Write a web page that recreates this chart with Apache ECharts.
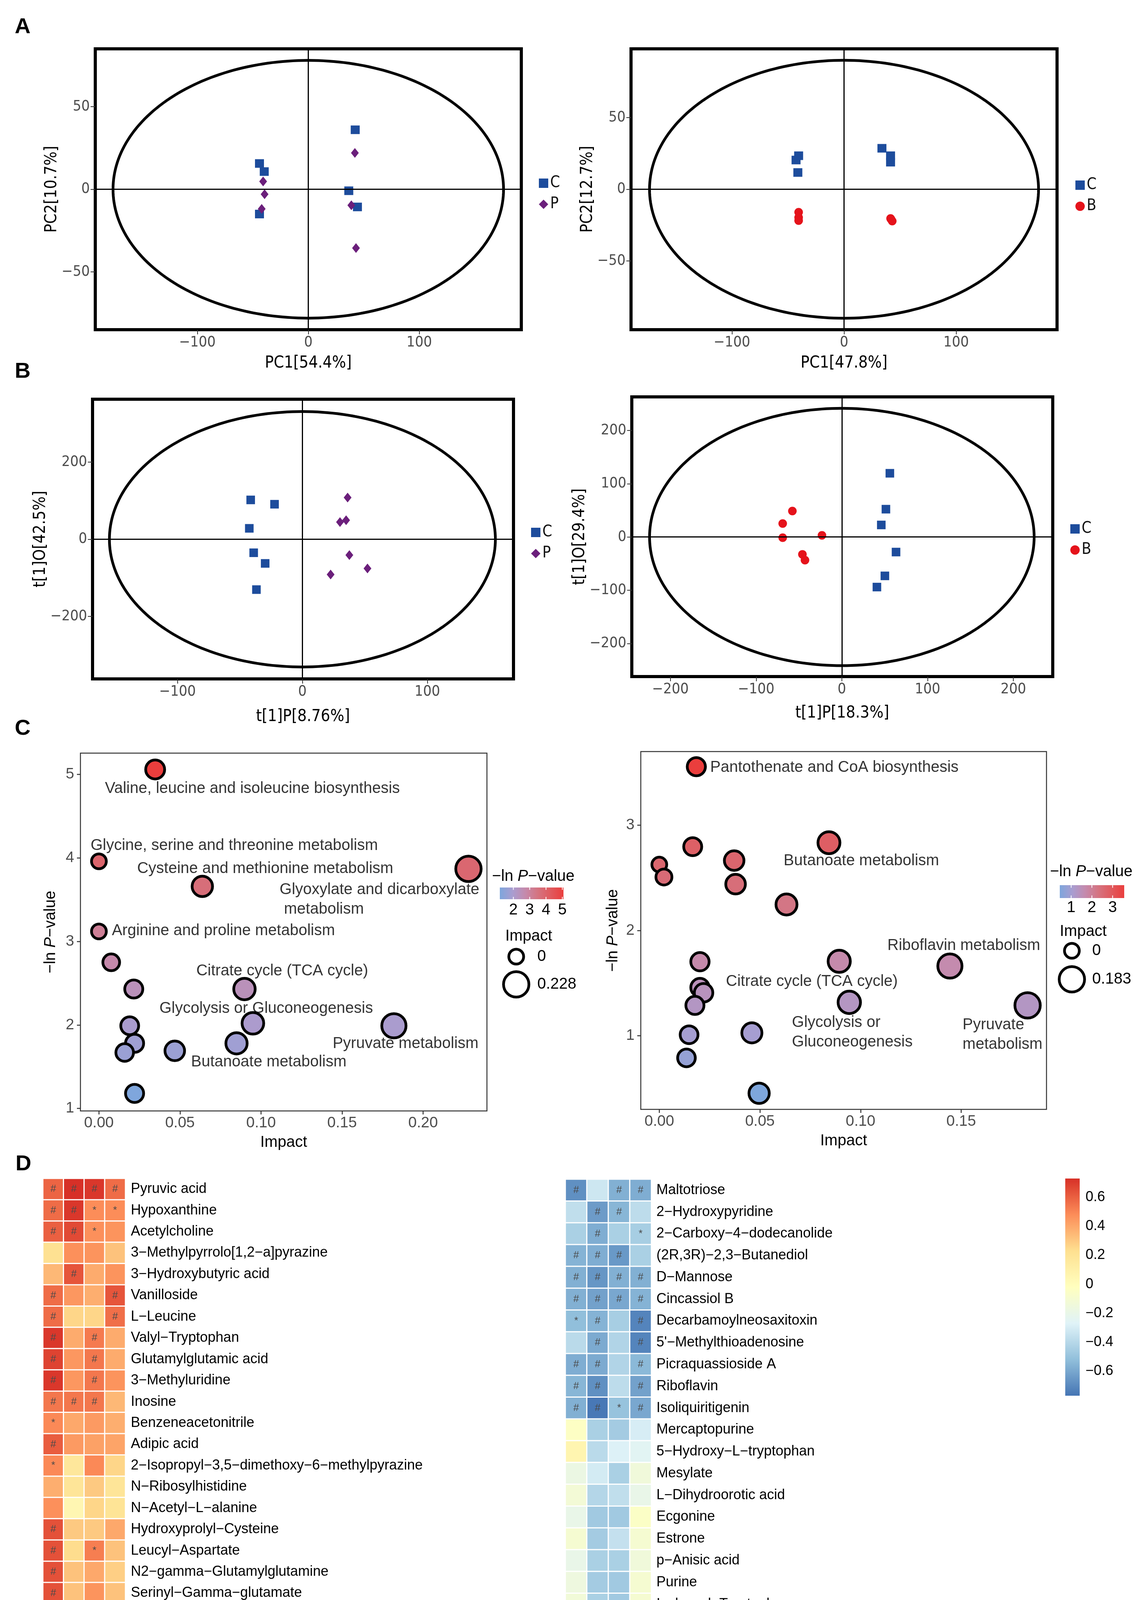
<!DOCTYPE html>
<html><head><meta charset="utf-8">
<script src="https://cdn.jsdelivr.net/npm/echarts@6/dist/echarts.min.js"></script>
<style>html,body{margin:0;padding:0;background:#fff}#c{width:2922px;height:5471px}</style>
</head><body><div id="c"></div>
<script>
// ---------------- DATA ----------------
// Panel A: PCA scores
const pcaA1_C = [[-44,15.6],[-39.7,10.7],[-44,-15],[42.3,36],[36.5,-0.9],[44.3,-10.7]];
const pcaA1_P = [[-40.7,4.7],[-39.4,-3],[-42,-11.9],[42,22],[38.8,-9.7],[43,-35.6]];
const pcaA2_C = [[-40.5,23.4],[-42.8,20.4],[-41.2,11.7],[33.8,28.6],[41.5,23.4],[41.5,18.9]];
const pcaA2_B = [[-40.5,-16],[-40.5,-19.7],[-40.5,-21.9],[41.5,-20.4],[43,-22.2],[42,-21]];
// Panel B: OPLS-DA scores
const oplsB1_C = [[-41.4,102],[-22.3,90.8],[-42.5,28.3],[-39,-35],[-29.8,-62.6],[-36.8,-130.5]];
const oplsB1_P = [[36.2,108],[35,49.3],[30.1,44.5],[37.6,-41],[52.1,-75.8],[22.6,-91.4]];
const oplsB2_C = [[56,119.6],[51.4,52.2],[46,22.6],[63.2,-28.3],[50.2,-73],[40.9,-94]];
const oplsB2_B = [[-57.7,48.7],[-69,25.2],[-69,-1.3],[-23.2,3],[-46,-32.6],[-43,-43.5]];
// Hotelling ellipse semi-axes [x, y]
const ellA1 = [176, 78], ellA2 = [173.5, 90], ellB1 = [154.5, 331], ellB2 = [224.3, 241.5];
// Axis ranges and ticks
const rngA1 = {x:[-192,192], y:[-85,85]}, rngA2 = {x:[-190,190], y:[-98,98]};
const rngB1 = {x:[-168,169], y:[-362,363]}, rngB2 = {x:[-245,246], y:[-262,263]};
const ticksA_x = [-100,0,100], ticksA_y = [-50,0,50];
const ticksB1_x = [-100,0,100], ticksB1_y = [-200,0,200];
const ticksB2_x = [-200,-100,0,100,200], ticksB2_y = [-200,-100,0,100,200];

// Panel C: pathway bubbles
const pathL_impact = [0.0347,0,0.0638,0.228,0,0.0076,0.0215,0.0898,0.095,0.019,0.022,0.0159,0.0468,0.0849,0.182,0.022];
const pathL_lnP    = [5.06,3.96,3.66,3.87,3.12,2.75,2.43,2.43,2.02,1.99,1.78,1.67,1.69,1.78,1.99,1.18];
const pathL_labels = ['Valine, leucine and isoleucine biosynthesis','Glycine, serine and threonine metabolism','Cysteine and methionine metabolism','Glyoxylate and dicarboxylate\n metabolism','Arginine and proline metabolism','Citrate cycle (TCA cycle)','Glycolysis or Gluconeogenesis','Pyruvate metabolism','Butanoate metabolism'];
const pathL_labelX = [0.0947,0.0835,0.1026,0.1115,0.0768,0.1131,0.1032,0.1892,0.1048];
const pathL_labelY = [4.83,4.148,3.873,3.50,3.127,2.644,2.198,1.773,1.557];
const pathL_labelAlign = ['center','center','center','left','center','center','center','center','center'];
const pathR_impact = [0.0184,0.0166,0,0.0023,0.0372,0.0379,0.0843,0.0632,0.0202,0.0894,0.1444,0.0202,0.022,0.0177,0.0944,0.183,0.0148,0.046,0.0135,0.0496];
const pathR_lnP    = [3.556,2.796,2.626,2.508,2.664,2.44,2.834,2.247,1.703,1.707,1.662,1.458,1.408,1.288,1.317,1.288,1.009,1.027,0.789,0.453];
const pathR_labels = ['Pantothenate and CoA biosynthesis','Butanoate metabolism','Riboflavin metabolism','Citrate cycle (TCA cycle)','Glycolysis or\nGluconeogenesis','Pyruvate\nmetabolism'];
const pathR_labelX = [0.087,0.1004,0.1513,0.0758,0.0659,0.1507];
const pathR_labelY = [3.549,2.66,1.855,1.515,1.033,1.009];
const pathR_labelAlign = ['center','center','center','center','left','left'];
const pathL_xTicks = [0,0.05,0.10,0.15,0.20], pathL_yTicks = [1,2,3,4,5];
const pathR_xTicks = [0,0.05,0.10,0.15], pathR_yTicks = [1,2,3];
const pathL_cbTicks = [2,3,4,5], pathR_cbTicks = [1,2,3];

// Panel D: correlation heatmaps
const heatCols = ['Melatonin','AANAT','p-CREB','5-HT'];
const heatL_rows = ['Pyruvic acid','Hypoxanthine','Acetylcholine','3-Methylpyrrolo[1,2-a]pyrazine','3-Hydroxybutyric acid','Vanilloside','L-Leucine','Valyl-Tryptophan','Glutamylglutamic acid','3-Methyluridine','Inosine','Benzeneacetonitrile','Adipic acid','2-Isopropyl-3,5-dimethoxy-6-methylpyrazine','N-Ribosylhistidine','N-Acetyl-L-alanine','Hydroxyprolyl-Cysteine','Leucyl-Aspartate','N2-gamma-Glutamylglutamine','Serinyl-Gamma-glutamate','Epsilon-(gamma-Glutamyl)-lysine','Aspartyl-Leucine','S-4-Hydroxymephenytoin','Glutamyllysine','Indole','D-Alanine','Glyoxylic acid','7,8-Dihydro-3-methylpyrrolo[1,2-a]pyrimidin-2(6H)-one','Oleamide','Isokobusone','Phenylalanyl-Tryptophan','Prolyl-Tryptophan','Tryptophan','Thymine','Methoxybrassenin A','4-(Methylnitrosamino)-1-(3-pyridyl)-1-butanol','Hydroxypyruvic acid','Methyl 2,3-dihydro-3,5-dihydroxy-2-oxo-3-indoleacetic acid','7-Methylguanine','Undecanoic acid','L-1,2,3,4-Tetrahydro-beta-carboline-3-carboxylic acid'];
const heatL_vals = [
[0.59,0.73,0.71,0.57],[0.57,0.71,0.48,0.48],[0.60,0.66,0.47,0.46],[0.22,0.47,0.46,0.32],[0.35,0.63,0.39,0.46],
[0.57,0.45,0.38,0.63],[0.57,0.26,0.26,0.56],[0.71,0.39,0.53,0.39],[0.68,0.45,0.54,0.39],[0.71,0.45,0.54,0.46],
[0.54,0.54,0.54,0.35],[0.49,0.40,0.44,0.38],[0.61,0.44,0.42,0.41],[0.49,0.17,0.49,0.26],[0.38,0.19,0.30,0.19],
[0.47,0.05,0.26,0.20],[0.64,0.30,0.30,0.40],[0.64,0.24,0.52,0.32],[0.64,0.32,0.40,0.28],[0.64,0.32,0.46,0.32],
[0.67,0.32,0.43,0.32],[0.62,0.24,0.40,0.24],[0.59,0.26,0.43,0.30],[0.58,0.30,0.44,0.30],[0.58,0.26,0.40,0.37],
[0.58,0.26,0.40,0.35],[0.46,0.26,0.41,0.49],[0.49,0.24,0.35,0.49],[0.47,0.24,0.57,0.49],[0.57,0.15,0.40,0.49],
[0.22,0.02,0.06,-0.11],[0.24,0.27,0.27,0.08],[0.24,0.22,0.27,0.03],[0.20,0.24,0.09,0.05],[0.22,0.24,0.03,0.22],
[0.30,0.49,0.17,0.30],[0.22,0.28,0.22,0.22],[0.22,0.24,0.24,0.39],[0.31,0.24,0.20,0.37],[0.37,-0.02,0.22,0.39],
[0.20,0.22,0.06,0.49]];
const heatL_marks = ['####','##**','##*.','....','.#..','#..#','#..#','#.#.','#.#.','#.#.','###.','*...','#...','*...','....','....','#...','#.*.','#...','#...','#...','#...','#...','#...','#...','#...','....','*...','..#.','#...','....','....','....','....','....','.*..','....','....','....','....','....'];
const heatR_rows = ['Maltotriose','2-Hydroxypyridine','2-Carboxy-4-dodecanolide','(2R,3R)-2,3-Butanediol','D-Mannose','Cincassiol B','Decarbamoylneosaxitoxin',"5'-Methylthioadenosine",'Picraquassioside A','Riboflavin','Isoliquiritigenin','Mercaptopurine','5-Hydroxy-L-tryptophan','Mesylate','L-Dihydroorotic acid','Ecgonine','Estrone','p-Anisic acid','Purine','Isoleucyl-Tryptophan','N-(4-hydroxyphenyl)ethoxycarbothioamide','Harman','Dihydrolipoate','Niacinamide','Pelargonic acid','Guanidinosuccinic acid','Dihydrouracil','5-(2-Hydroxyethyl)-4-methylthiazole','Ethyl glucuronide','2-[(Methylthio)methyl]-2-butenal','3-Amino-2-piperidone','Isobutyric acid','Glycyl-glycine','N-Acetyl-L-phenylalanine','Heptadecanoic acid','Cytidine 2′,3′-cyclic phosphate','gamma-Glutamylleucine','2-Octyl-4-propylthiazole','Imidazoleacetic acid','Adenine'];
const heatR_vals = [
[-0.68,-0.33,-0.57,-0.58],[-0.37,-0.64,-0.55,-0.38],[-0.44,-0.58,-0.44,-0.45],[-0.56,-0.58,-0.65,-0.44],[-0.57,-0.66,-0.57,-0.57],
[-0.57,-0.62,-0.60,-0.56],[-0.52,-0.56,-0.45,-0.72],[-0.39,-0.59,-0.42,-0.72],[-0.58,-0.59,-0.42,-0.54],[-0.55,-0.68,-0.38,-0.62],
[-0.57,-0.76,-0.50,-0.60],[-0.04,-0.44,-0.46,-0.30],[0.06,-0.39,-0.28,-0.25],[-0.18,-0.31,-0.44,-0.14],[-0.12,-0.41,-0.37,-0.20],
[-0.20,-0.47,-0.47,-0.05],[-0.10,-0.46,-0.36,-0.10],[-0.20,-0.44,-0.44,-0.14],[-0.16,-0.46,-0.47,-0.10],[-0.13,-0.44,-0.47,-0.10],
[-0.07,-0.58,-0.16,-0.36],[-0.20,-0.62,-0.16,-0.37],[-0.30,-0.61,-0.07,-0.37],[-0.29,-0.65,-0.48,-0.10],[-0.37,-0.59,-0.31,-0.29],
[-0.44,-0.57,-0.36,-0.29],[-0.30,-0.56,-0.48,-0.31],[-0.18,-0.46,-0.48,-0.39],[-0.46,-0.38,-0.44,-0.18],[-0.43,-0.39,-0.52,-0.22],
[-0.44,-0.38,-0.45,-0.35],[-0.35,-0.41,-0.44,-0.29],[-0.35,-0.35,-0.49,-0.37],[-0.11,-0.30,0.00,0.03],[-0.15,-0.47,0.10,-0.01],
[-0.04,-0.15,-0.16,-0.46],[-0.05,-0.35,-0.11,-0.43],[0.00,-0.33,-0.11,-0.43],[-0.45,-0.35,-0.26,-0.31],[-0.18,-0.15,-0.31,-0.20]];
const heatR_marks = ['#.##','.##.','.#.*','###.','####','####','*#.#','.#.#','##.#','##.#','##*#','....','....','....','....','....','....','....','....','....','.#..','.#..','.#..','.#*.','.#..','.#..','.#*.','..*.','....','..*.','....','....','....','....','....','....','....','....','....','....'];
const heatRange = [-0.77, 0.73];
const heatTicks = [0.6,0.4,0.2,0,-0.2,-0.4,-0.6];

// ---------------- STYLE ----------------
const NARROW = "'Liberation Sans Narrow','DejaVu Sans Condensed','Arial Narrow',sans-serif";
const ARIAL = "'Liberation Sans',Arial,Helvetica,sans-serif";
const COL_C = '#1d4c9c', COL_P = '#6b1f7b', COL_B = '#e5131b';
const PATH_COLORS = ['#7ea6dc','#a99dd0','#c58aac','#d57380','#e05a5e','#ea3e3d'];
const RDYLBU = ['#4575B4','#91BFDB','#E0F3F8','#FFFFBF','#FEE090','#FC8D59','#D73027'];
const minus = v => (v < 0 ? '\u2212' : '') + Math.abs(v);

const grids = [], xAxes = [], yAxes = [], series = [], legends = [], visualMaps = [], graphics = [];

function pcaPanel(c) {
  const gi = grids.length, bw = 8;
  grids.push({left:c.box[0]+bw/2, top:c.box[1]+bw/2, width:c.box[2]-c.box[0]-bw, height:c.box[3]-c.box[1]-bw,
    show:true, borderColor:'#000', borderWidth:bw, backgroundColor:'transparent'});
  const tickCommon = {show:true, inside:false, length:12, lineStyle:{color:'#333', width:2}};
  const lblCommon = {fontSize:38, color:'#4d4d4d', fontFamily:NARROW, formatter:minus};
  xAxes.push({gridIndex:gi, type:'value', min:c.rng.x[0], max:c.rng.x[1], axisLine:{show:false, onZero:false}, splitLine:{show:false},
    axisTick:Object.assign({customValues:c.xt}, tickCommon), axisLabel:Object.assign({customValues:c.xt, margin:14}, lblCommon),
    name:c.xn, nameLocation:'middle', nameGap:c.xGap, nameTextStyle:{fontSize:42, color:'#000', fontFamily:NARROW}});
  yAxes.push({gridIndex:gi, type:'value', min:c.rng.y[0], max:c.rng.y[1], axisLine:{show:false, onZero:false}, splitLine:{show:false},
    axisTick:Object.assign({customValues:c.yt}, tickCommon), axisLabel:Object.assign({customValues:c.yt, margin:14}, lblCommon),
    name:c.yn, nameLocation:'middle', nameGap:c.yGap, nameTextStyle:{fontSize:42, color:'#000', fontFamily:NARROW}});
  const ell = c.ell;
  series.push({type:'custom', xAxisIndex:gi, yAxisIndex:gi, silent:true, z:1, data:[[0,0]],
    renderItem:(params, api) => {
      const pts = [];
      for (let i = 0; i <= 240; i++) { const t = i/240*2*Math.PI; pts.push(api.coord([ell[0]*Math.cos(t), ell[1]*Math.sin(t)])); }
      return {type:'polygon', shape:{points:pts}, style:{fill:'none', stroke:'#000', lineWidth:7}};
    }});
  c.groups.forEach((g, k) => {
    const s = {type:'scatter', name:g.name, xAxisIndex:gi, yAxisIndex:gi, data:g.data, symbol:g.symbol, symbolSize:g.size,
      itemStyle:{color:g.color, opacity:1}, z:3, silent:true};
    if (k === 0) s.markLine = {silent:true, symbol:'none', label:{show:false}, animation:false,
      lineStyle:{color:'#000', width:3, type:'solid'}, data:[{xAxis:0},{yAxis:0}]};
    series.push(s);
  });
  legends.push({left:c.leg[0], top:c.leg[1], orient:'vertical', itemWidth:24, itemHeight:24, itemGap:14, selectedMode:false,
    textStyle:{fontSize:40, fontFamily:NARROW, color:'#111', lineHeight:37},
    data:c.groups.map(g => ({name:g.name, icon:g.symbol}))});
}

function pathPanel(c) {
  const gi = grids.length, bw = 2.5;
  grids.push({left:c.box[0]+1, top:c.box[1]+1, width:c.box[2]-c.box[0]-2, height:c.box[3]-c.box[1]-2,
    show:true, borderColor:'#333', borderWidth:bw, backgroundColor:'transparent'});
  const tick = {show:true, inside:false, length:9, lineStyle:{color:'#333', width:2.5}};
  xAxes.push({gridIndex:gi, type:'value', min:c.xr[0], max:c.xr[1], axisLine:{show:false, onZero:false}, splitLine:{show:false},
    axisTick:Object.assign({customValues:c.xt}, tick),
    axisLabel:{customValues:c.xt, formatter:v => v.toFixed(2), fontSize:39, color:'#4d4d4d', fontFamily:ARIAL, margin:12},
    name:'Impact', nameLocation:'middle', nameGap:61, nameTextStyle:{fontSize:40, color:'#000', fontFamily:ARIAL}});
  yAxes.push({gridIndex:gi, type:'value', min:c.yr[0], max:c.yr[1], axisLine:{show:false, onZero:false}, splitLine:{show:false},
    axisTick:Object.assign({customValues:c.yt}, tick),
    axisLabel:{customValues:c.yt, fontSize:39, color:'#4d4d4d', fontFamily:ARIAL, margin:16},
    name:'\u2212ln {i|P}\u2212value', nameLocation:'middle', nameGap:c.yGap,
    nameTextStyle:{fontSize:40, color:'#000', fontFamily:ARIAL, rich:{i:{fontStyle:'italic', fontSize:40, fontFamily:ARIAL}}}});
  const maxImp = Math.max(...c.impact);
  const bi = series.length;
  series.push({type:'scatter', xAxisIndex:gi, yAxisIndex:gi, silent:true, z:3,
    data:c.impact.map((v, i) => [v, c.lnP[i]]),
    symbolSize:v => 45 + 27*Math.sqrt(v[0]/maxImp) - 7,
    itemStyle:{borderColor:'#000', borderWidth:7, opacity:1}});
  series.push({type:'scatter', xAxisIndex:gi, yAxisIndex:gi, silent:true, z:6, symbolSize:1,
    itemStyle:{color:'rgba(0,0,0,0)'},
    label:{show:true, position:'inside', formatter:p => p.name, fontSize:40, color:'#000', fontFamily:ARIAL, lineHeight:50},
    data:c.labels.map((t, i) => ({name:t, value:[c.lx[i], c.ly[i]], label:{align:c.la[i]}}))});
  visualMaps.push({type:'continuous', show:false, seriesIndex:bi, dimension:1, min:c.vr[0], max:c.vr[1], inRange:{color:PATH_COLORS}});
  // legend (colorbar + size)
  const L = c.leg;
  graphics.push({type:'text', x:L.titleX, y:L.titleY, style:{text:'\u2212ln {i|P}\u2212value', fontSize:40, fontFamily:ARIAL, fill:'#000',
    align:'left', verticalAlign:'middle', rich:{i:{fontStyle:'italic', fontSize:40, fontFamily:ARIAL}}}});
  graphics.push({type:'rect', shape:{x:L.barX, y:L.barY, width:L.barW, height:L.barH},
    style:{fill:{type:'linear', x:0, y:0, x2:1, y2:0, colorStops:PATH_COLORS.map((col, i) => ({offset:i/(PATH_COLORS.length-1), color:col}))}}});
  c.cbTicks.forEach(t => {
    const px = L.barX + (t - c.vr[0])/(c.vr[1]-c.vr[0])*L.barW;
    graphics.push({type:'line', shape:{x1:px, y1:L.barY, x2:px, y2:L.barY+L.barH/5}, style:{stroke:'#fff', lineWidth:2}});
    graphics.push({type:'line', shape:{x1:px, y1:L.barY+L.barH, x2:px, y2:L.barY+L.barH*4/5}, style:{stroke:'#fff', lineWidth:2}});
    graphics.push({type:'text', x:px, y:L.labelY, style:{text:String(t), fontSize:40, fontFamily:ARIAL, fill:'#000', align:'center', verticalAlign:'middle'}});
  });
  graphics.push({type:'text', x:L.impX, y:L.impY, style:{text:'Impact', fontSize:40, fontFamily:ARIAL, fill:'#000', align:'left', verticalAlign:'middle'}});
  [[0, 45, L.c0Y], [maxImp, 72, L.c1Y]].forEach(([v, d, cy]) => {
    graphics.push({type:'circle', shape:{cx:L.cX, cy:cy, r:(d-7)/2}, style:{fill:'#fff', stroke:'#000', lineWidth:7}});
    graphics.push({type:'text', x:L.cLabelX, y:cy, style:{text:v === 0 ? '0' : String(+v.toFixed(3)), fontSize:40, fontFamily:ARIAL, fill:'#000', align:'left', verticalAlign:'middle'}});
  });
}

function heatPanel(c) {
  const gi = grids.length;
  grids.push({left:c.box[0], top:c.box[1], width:c.box[2]-c.box[0], height:c.box[3]-c.box[1]});
  xAxes.push({gridIndex:gi, type:'category', data:heatCols, position:'bottom', axisLine:{show:false}, axisTick:{show:false}, splitLine:{show:false},
    axisLabel:{rotate:90, interval:0, fontSize:36, color:'#000', fontFamily:ARIAL, margin:12}});
  yAxes.push({gridIndex:gi, type:'category', data:c.rows, inverse:true, position:'right', axisLine:{show:false}, axisTick:{show:false}, splitLine:{show:false},
    axisLabel:{interval:0, fontSize:36, color:'#000', fontFamily:ARIAL, margin:c.lblMargin, align:'left', formatter:v => v.replace(/-/g, '\u2212')}});
  const data = [];
  c.rows.forEach((r, ri) => heatCols.forEach((col, ci) => {
    const m = c.marks[ri][ci];
    data.push({value:[ci, ri, c.vals[ri][ci]], mark:m === '.' ? '' : m});
  }));
  const si = series.length;
  series.push({type:'heatmap', xAxisIndex:gi, yAxisIndex:gi, data, silent:true,
    itemStyle:{borderColor:'#fff', borderWidth:3},
    label:{show:true, formatter:p => p.data.mark, fontSize:26, color:'#4a4a4a', fontFamily:ARIAL}});
  return si;
}

// ---------------- BUILD ----------------
pcaPanel({box:[240,121,1339,848], rng:rngA1, xt:ticksA_x, yt:ticksA_y, xn:'PC1[54.4%]', yn:'PC2[10.7%]', xGap:65, yGap:63, ell:ellA1,
  groups:[{name:'C', data:pcaA1_C, symbol:'rect', size:[23,22], color:COL_C},{name:'P', data:pcaA1_P, symbol:'diamond', size:[20,25], color:COL_P}],
  leg:[1375,444]});
pcaPanel({box:[1612,121,2711,848], rng:rngA2, xt:ticksA_x, yt:ticksA_y, xn:'PC1[47.8%]', yn:'PC2[12.7%]', xGap:65, yGap:62, ell:ellA2,
  groups:[{name:'C', data:pcaA2_C, symbol:'rect', size:[23,22], color:COL_C},{name:'B', data:pcaA2_B, symbol:'circle', size:22, color:COL_B}],
  leg:[2749,449]});
pcaPanel({box:[233,1018,1319,1742], rng:rngB1, xt:ticksB1_x, yt:ticksB1_y, xn:'t[1]P[8.76%]', yn:'t[1]O[42.5%]', xGap:76, yGap:90, ell:ellB1,
  groups:[{name:'C', data:oplsB1_C, symbol:'rect', size:[22,22], color:COL_C},{name:'P', data:oplsB1_P, symbol:'diamond', size:[20,25], color:COL_P}],
  leg:[1355,1338]});
pcaPanel({box:[1614,1012,2700,1736], rng:rngB2, xt:ticksB2_x, yt:ticksB2_y, xn:'t[1]P[18.3%]', yn:'t[1]O[29.4%]', xGap:73, yGap:95, ell:ellB2,
  groups:[{name:'C', data:oplsB2_C, symbol:'rect', size:[22,22], color:COL_C},{name:'B', data:oplsB2_B, symbol:'circle', size:22, color:COL_B}],
  leg:[2736,1329]});

pathPanel({box:[205,1927,1248,2845], xr:[-0.0114,0.2394], yr:[0.97,5.256], xt:pathL_xTicks, yt:pathL_yTicks, yGap:56,
  impact:pathL_impact, lnP:pathL_lnP, labels:pathL_labels, lx:pathL_labelX, ly:pathL_labelY, la:pathL_labelAlign,
  vr:[1.17,5.07], cbTicks:pathL_cbTicks,
  leg:{titleX:1260, titleY:2244, barX:1280, barY:2272, barW:163, barH:30, labelY:2330, impX:1294, impY:2397, cX:1322, c0Y:2449, c1Y:2520, cLabelX:1376}});
pathPanel({box:[1640,1923,2681,2841], xr:[-0.0092,0.1924], yr:[0.30,3.70], xt:pathR_xTicks, yt:pathR_yTicks, yGap:51,
  impact:pathR_impact, lnP:pathR_lnP, labels:pathR_labels, lx:pathR_labelX, ly:pathR_labelY, la:pathR_labelAlign,
  vr:[0.45,3.56], cbTicks:pathR_cbTicks,
  leg:{titleX:2689, titleY:2232, barX:2714, barY:2266, barW:165, barH:33, labelY:2324, impX:2714, impY:2385, cX:2745, c0Y:2434, c1Y:2507, cLabelX:2797}});

const hL = heatPanel({box:[110,3017,321,5249], rows:heatL_rows, vals:heatL_vals, marks:heatL_marks, lblMargin:14});
const hR = heatPanel({box:[1448,3019,1668,5250], rows:heatR_rows, vals:heatR_vals, marks:heatR_marks, lblMargin:13});
visualMaps.push({type:'continuous', show:false, seriesIndex:[hL, hR], dimension:2, min:heatRange[0], max:heatRange[1], inRange:{color:RDYLBU}});

// heatmap colour bar
const cb = {x:2728, y:3017, w:37, h:556};
graphics.push({type:'rect', shape:{x:cb.x, y:cb.y, width:cb.w, height:cb.h},
  style:{fill:{type:'linear', x:0, y:0, x2:0, y2:1, colorStops:RDYLBU.slice().reverse().map((col, i) => ({offset:i/(RDYLBU.length-1), color:col}))}}});
heatTicks.forEach(t => {
  const py = cb.y + (heatRange[1]-t)/(heatRange[1]-heatRange[0])*cb.h;
  graphics.push({type:'text', x:2780, y:py, style:{text:minus(t), fontSize:36, fontFamily:ARIAL, fill:'#000', align:'left', verticalAlign:'middle'}});
});

// panel letters
[['A',58,70],['B',58,952],['C',58,1866],['D',60,2981]].forEach(([t,x,y]) => {
  graphics.push({type:'text', x, y, style:{text:t, fontSize:56, fontWeight:'bold', fontFamily:ARIAL, fill:'#000', align:'center', verticalAlign:'middle'}});
});

const chart = echarts.init(document.getElementById('c'), null, {renderer:'canvas', width:2922, height:5471});
chart.setOption({
  backgroundColor:'#fff', animation:false,
  grid:grids, xAxis:xAxes, yAxis:yAxes, series, legend:legends, visualMap:visualMaps, graphic:graphics
});
</script></body></html>
